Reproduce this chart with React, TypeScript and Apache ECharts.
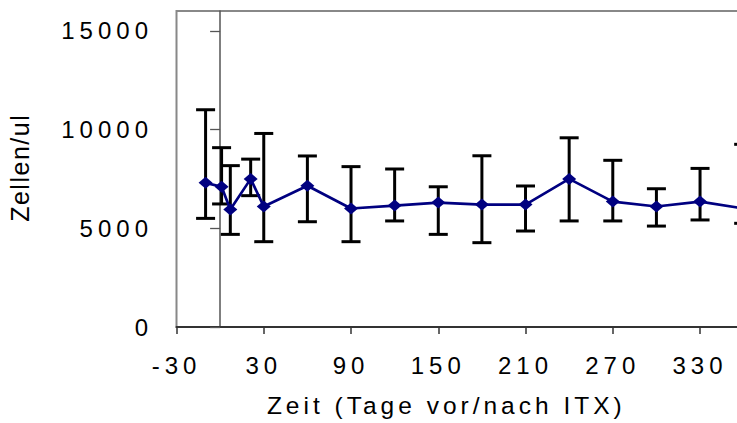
import React, { useEffect, useRef } from "react";
import * as echarts from "echarts";

// Days relative to ITX
const days = [-10, 1, 7, 21, 30, 60, 90, 120, 150, 180, 210, 240, 270, 300, 330, 360];
// Mean cell counts (Zellen/ul)
const means = [7300, 7100, 5950, 7500, 6100, 7150, 6000, 6150, 6300, 6200, 6200, 7500, 6350, 6100, 6350, 6000];
// Error bar lower / upper ends
const lows = [5500, 6230, 4690, 6650, 4320, 5330, 4320, 5370, 4690, 4270, 4860, 5370, 5370, 5110, 5420, 5250];
const highs = [11000, 9080, 8170, 8500, 9800, 8660, 8120, 8000, 7100, 8670, 7140, 9580, 8440, 7000, 8030, 9250];
const yTickValues = [0, 5000, 10000, 15000];

const xTitle = "Zeit (Tage vor/nach ITX)";
const yTitle = "Zellen/ul";

const FONT = "Liberation Sans";

export default function App() {
  const ref = useRef<HTMLDivElement>(null);

  useEffect(() => {
    document.documentElement.style.overflow = "hidden";
    document.body.style.overflow = "hidden";
    const chart = echarts.init(ref.current!, null, { renderer: "svg" });
    const errData = days.map((d, i) => [d, lows[i], highs[i]]);
    const lineData = days.map((d, i) => [d, means[i]]);
    chart.setOption({
      animation: false,
      grid: {
        left: 176.5,
        top: 11,
        width: 610.8,
        height: 316,
        show: true,
        borderColor: "#888",
        borderWidth: 2,
        backgroundColor: "transparent",
      },
      xAxis: {
        type: "value",
        min: -30,
        max: 390,
        interval: 60,
        axisLine: { show: true, onZero: false, lineStyle: { color: "#333", width: 2 } },
        axisTick: { show: true, length: 7, lineStyle: { color: "#333", width: 1.5 } },
        axisLabel: {
          fontSize: 24,
          fontFamily: FONT,
          color: "#000",
          margin: 26,
          showMaxLabel: false,
          formatter: (v: number) => String(v),
        },
        splitLine: { show: false },
      },
      yAxis: [
        {
          type: "value",
          min: 0,
          max: 16000,
          interval: 5000,
          axisLine: { show: false },
          axisTick: { show: false },
          splitLine: { show: false },
          axisLabel: {
            fontSize: 24,
            fontFamily: FONT,
            color: "#000",
            margin: 23.5,
            customValues: yTickValues,
            formatter: (v: number) => String(v),
          },
        },
        {
          type: "value",
          min: 0,
          max: 16000,
          interval: 5000,
          position: "left",
          offset: -43.6,
          axisLine: { show: true, onZero: false, lineStyle: { color: "#555", width: 1.5 } },
          axisTick: { show: true, length: 10, customValues: yTickValues, lineStyle: { color: "#555", width: 1.3 } },
          axisLabel: { show: false },
          splitLine: { show: false },
        },
      ],
      series: [
        {
          type: "custom",
          yAxisIndex: 0,
          z: 1,
          data: errData,
          encode: { x: 0, y: [1, 2] },
          renderItem: (params: any, api: any) => {
            const x = api.value(0);
            const lo = api.coord([x, api.value(1)]);
            const hi = api.coord([x, api.value(2)]);
            const w = 9.5;
            const st = { stroke: "#000", lineWidth: 3, fill: "none" };
            return {
              type: "group",
              children: [
                { type: "line", shape: { x1: lo[0], y1: lo[1], x2: hi[0], y2: hi[1] }, style: st },
                { type: "line", shape: { x1: hi[0] - w, y1: hi[1], x2: hi[0] + w, y2: hi[1] }, style: st },
                { type: "line", shape: { x1: lo[0] - w, y1: lo[1], x2: lo[0] + w, y2: lo[1] }, style: st },
              ],
            };
          },
        },
        {
          type: "line",
          yAxisIndex: 0,
          z: 3,
          data: lineData,
          symbol: "diamond",
          symbolSize: [14, 12],
          showAllSymbol: true,
          lineStyle: { color: "#000080", width: 2.7 },
          itemStyle: { color: "#000080" },
        },
      ],
      graphic: [
        {
          type: "text",
          x: 446.3,
          y: 405,
          style: {
            text: xTitle,
            fontSize: 24.5,
            fontFamily: FONT,
            fill: "#000",
            align: "center",
            verticalAlign: "middle",
            textAlign: "center",
            textVerticalAlign: "middle",
          },
        },
        {
          type: "text",
          x: 20,
          y: 167.8,
          rotation: Math.PI / 2,
          style: {
            text: yTitle,
            fontSize: 25,
            fontFamily: FONT,
            fill: "#000",
            align: "center",
            verticalAlign: "middle",
            textAlign: "center",
            textVerticalAlign: "middle",
          },
        },
      ],
    });
    return () => chart.dispose();
  }, []);

  return (
    <>
      <style>{`#chartbox text{letter-spacing:5px}#chartbox text[style*="24.5px"]{letter-spacing:4px}#chartbox text[style*="25px"]{letter-spacing:1.5px}`}</style>
      <div
        id="chartbox"
        ref={ref}
        style={{ position: "fixed", left: 0, top: 0, width: 820, height: 423, background: "#fff" }}
      />
    </>
  );
}
